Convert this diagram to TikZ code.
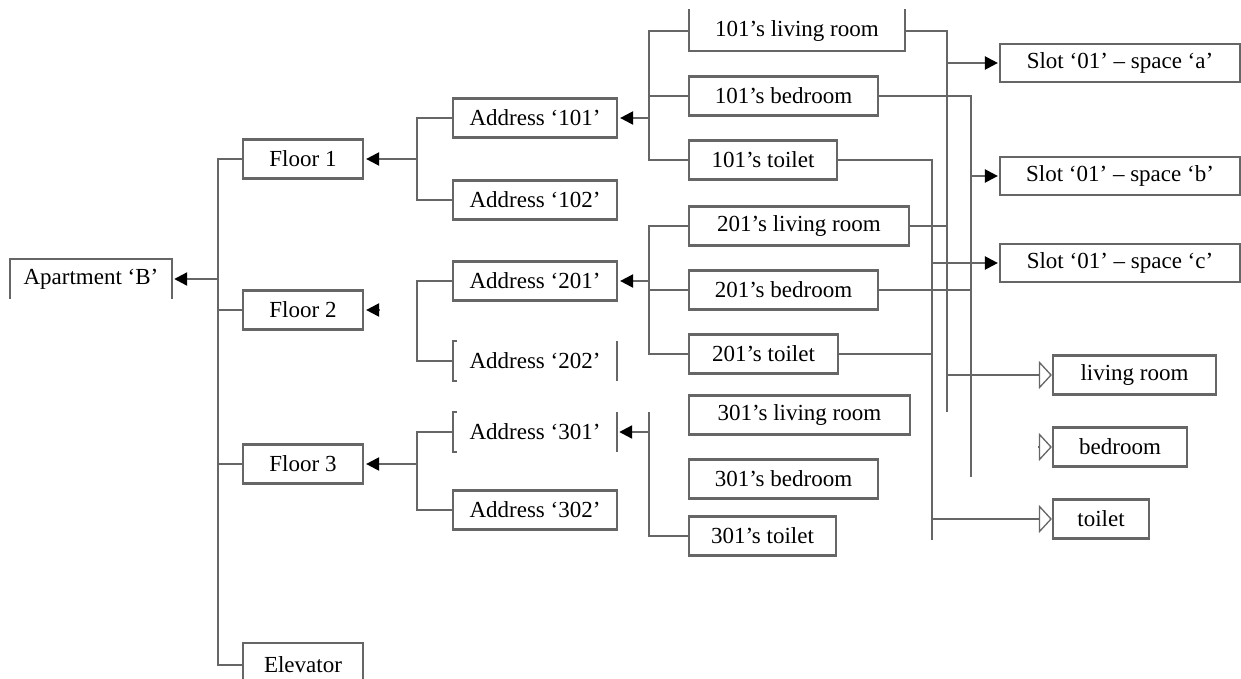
\documentclass[tikz,border=0pt]{standalone}
\usepackage{fontspec}
\setmainfont{Liberation Serif}
\usetikzlibrary{arrows.meta,calc}
\definecolor{ln}{HTML}{666666}
\begin{document}
\begin{tikzpicture}[x=1pt,y=-1pt,
  lbl/.style={minimum height=39pt,inner sep=0pt,font=\fontsize{23}{25}\selectfont},
  box/.style={lbl,draw=ln,line width=2.2pt},
  conn/.style={draw=ln,line width=2.2pt},
  arr/.style={conn,-{Triangle[length=13pt,width=13pt,color=black]},shorten >=2pt},
  oarr/.style={conn,-{Triangle[open,length=13pt,width=28pt,color=ln,line width=1.3pt]}},
  part/.style={draw=ln,line width=2.2pt}
]
\useasboundingbox (0,0) rectangle (1241,679);
% level 0
\node[lbl,minimum width=162pt] (apt) at (91,279) {Apartment ‘B’};
% floors
\node[box,minimum width=120pt] (f1) at (303,159) {Floor 1};
\node[box,minimum width=120pt] (f2) at (303,310) {Floor 2};
\node[box,minimum width=120pt] (f3) at (303,464) {Floor 3};
\node[lbl,minimum width=120pt,minimum height=44pt] (elev) at (303,665) {Elevator};
% addresses
\node[box,minimum width=164pt] (a101) at (535,118) {Address ‘101’};
\node[box,minimum width=164pt] (a102) at (535,200) {Address ‘102’};
\node[box,minimum width=164pt] (a201) at (535,281) {Address ‘201’};
\node[lbl,minimum width=164pt] (a202) at (535,361) {Address ‘202’};
\node[lbl,minimum width=164pt] (a301) at (535,432) {Address ‘301’};
\node[box,minimum width=164pt] (a302) at (535,510) {Address ‘302’};
% rooms
\node[lbl,minimum width=216pt] (r101l) at (797,31) {101’s living room};
\node[box,minimum width=189pt] (r101b) at (783.5,96) {101’s bedroom};
\node[box,minimum width=148pt] (r101t) at (763,160) {101’s toilet};
\node[box,minimum width=220pt] (r201l) at (799,226) {201’s living room};
\node[box,minimum width=189pt] (r201b) at (783.5,290) {201’s bedroom};
\node[box,minimum width=149pt] (r201t) at (763.5,354) {201’s toilet};
\node[box,minimum width=221pt] (r301l) at (799.5,415) {301’s living room};
\node[box,minimum width=189pt] (r301b) at (783.5,479) {301’s bedroom};
\node[box,minimum width=147pt] (r301t) at (762.5,536) {301’s toilet};
% slots
\node[box,minimum width=240pt,minimum height=38pt] (sa) at (1120,63) {Slot ‘01’ – space ‘a’};
\node[box,minimum width=240pt,minimum height=38pt] (sb) at (1120,176) {Slot ‘01’ – space ‘b’};
\node[box,minimum width=240pt,minimum height=38pt] (sc) at (1120,263) {Slot ‘01’ – space ‘c’};
% types
\node[box,minimum width=163pt] (liv) at (1134.5,375) {living room};
\node[box,minimum width=134pt] (bed) at (1120,447) {bedroom};
\node[box,minimum width=96pt] (toi) at (1101,519) {toilet};

% partial borders
\draw[part] (apt.south west) -- (apt.north west) -- (apt.north east) -- (apt.south east);
\draw[part] ($(elev.south west)+(0,10)$) -- (elev.north west) -- (elev.north east) -- ($(elev.south east)+(0,10)$);
\draw[part] ($(r101l.north west)+(0,-2)$) -- (r101l.south west) -- (r101l.south east) -- ($(r101l.north east)+(0,-2)$);
\foreach \n in {a202,a301}{
  \draw[part] ($(\n.north west)+(4,0)$) -- (\n.north west) -- (\n.south west) -- ++(4,0);
  \draw[part] (\n.north east) -- (\n.south east);
}

% junction columns
\coordinate (tx) at (218,0);
\coordinate (kx) at (417,0);
\coordinate (mx) at (649,0);
\coordinate (dx) at (932,0);
\coordinate (bx) at (947,0);
\coordinate (cx) at (971,0);

% trunk
\draw[conn] (f1.west) -| (tx |- elev.west) -- (elev.west);
\draw[conn] (tx |- f2.west) -- (f2.west);
\draw[conn] (tx |- f3.west) -- (f3.west);
\draw[arr] (tx |- apt.east) -- (apt.east);

% floor junctions
\draw[conn] (a101.west) -| (kx |- a102.west) -- (a102.west);
\draw[arr] (kx |- f1.east) -- (f1.east);
\draw[conn] (a201.west) -| (kx |- a202.west) -- (a202.west);
\draw[arr] ($(f2.east)+(15,0)$) -- (f2.east);
\draw[conn] (a301.west) -| (kx |- a302.west) -- (a302.west);
\draw[arr] (kx |- f3.east) -- (f3.east);

% address junctions
\draw[conn] (r101l.west) -| (mx |- r101t.west) -- (r101t.west);
\draw[conn] (mx |- r101b.west) -- (r101b.west);
\draw[arr] (mx |- a101.east) -- (a101.east);
\draw[conn] (r201l.west) -| (mx |- r201t.west) -- (r201t.west);
\draw[conn] (mx |- r201b.west) -- (r201b.west);
\draw[arr] (mx |- a201.east) -- (a201.east);
\draw[conn] (mx |- a301.north) -- (mx |- r301t.west) -- (r301t.west);
\draw[arr] (mx |- a301.east) -- (a301.east);

% right-hand collectors
\coordinate (bEnd) at (947,412);
\coordinate (cEnd) at (971,477);
\coordinate (dEnd) at (932,540);
\draw[conn] (r101l.east) -| (bEnd);
\draw[conn] (r201l.east) -- (bx |- r201l.east);
\draw[conn] (r101b.east) -| (cEnd);
\draw[conn] (r201b.east) -- (cx |- r201b.east);
\draw[conn] (r101t.east) -| (dEnd);
\draw[conn] (r201t.east) -- (dx |- r201t.east);
\draw[arr,shorten >=1pt] (bx |- sa.west) -- (sa.west);
\draw[arr,shorten >=1pt] (cx |- sb.west) -- (sb.west);
\draw[arr,shorten >=1pt] (dx |- sc.west) -- (sc.west);
\draw[oarr] (bx |- liv.west) -- (liv.west);
\draw[oarr] ($(bed.west)+(-14,0)$) -- (bed.west);
\draw[oarr] (dx |- toi.west) -- (toi.west);
\end{tikzpicture}
\end{document}
